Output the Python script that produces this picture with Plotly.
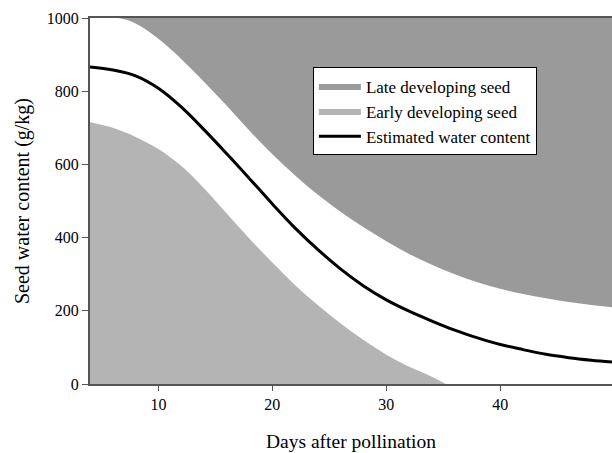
import plotly.graph_objects as go

# Estimated water content (black line)
days_line = [4, 6, 8, 10, 12, 14, 16, 18, 20, 22, 24, 26, 28, 30, 32, 34, 36, 38, 40, 42, 44, 46, 48, 49.8]
water_line = [866, 858, 842, 808, 757, 695, 629, 561, 492, 426, 367, 314, 268, 230, 199, 172, 147, 126, 108, 94, 81, 72, 65, 60]

# Late developing seed: lower boundary of the dark region (region extends up to 1000)
days_late = [4, 6.5, 8, 10, 12, 14, 16, 18, 20, 22, 24, 26, 28, 30, 32, 34, 36, 38, 40, 42, 44, 46, 48, 49.8]
water_late = [1000, 1000, 985, 943, 888, 826, 760, 692, 628, 570, 517, 470, 428, 390, 355, 326, 300, 278, 260, 246, 234, 224, 216, 210]

# Early developing seed: upper boundary of the light region (region extends down to 0)
days_early = [4, 6, 8, 10, 12, 14, 16, 18, 20, 22, 24, 26, 28, 30, 32, 34, 35.2]
water_early = [715, 700, 675, 642, 596, 535, 466, 397, 332, 270, 215, 165, 120, 80, 47, 20, 0]

y_max = 1000

x_ticks = [10, 20, 30, 40]
y_ticks = [0, 200, 400, 600, 800, 1000]

font_family = "Liberation Serif"
dark = "#9a9a9a"
light = "#b4b4b4"

fig = go.Figure()

# Ceiling for the dark region
fig.add_trace(go.Scatter(
    x=days_late, y=[y_max] * len(days_late), mode="lines",
    line=dict(width=0, color=dark), showlegend=False, hoverinfo="skip",
))
fig.add_trace(go.Scatter(
    x=days_late, y=water_late, mode="lines",
    fill="tonexty", fillcolor=dark,
    line=dict(width=0, color=dark, shape="spline"),
    name="Late developing seed", hoverinfo="skip",
))

fig.add_trace(go.Scatter(
    x=days_early, y=water_early, mode="lines",
    fill="tozeroy", fillcolor=light,
    line=dict(width=0, color=light, shape="spline"),
    name="Early developing seed", hoverinfo="skip",
))

fig.add_trace(go.Scatter(
    x=days_line, y=water_line, mode="lines",
    line=dict(color="black", width=3, shape="spline"),
    name="Estimated water content",
))

fig.update_layout(
    width=612, height=453,
    margin=dict(l=90, r=0, t=18, b=69),
    paper_bgcolor="white", plot_bgcolor="white",
    font=dict(family=font_family, size=16, color="black"),
    showlegend=True,
    legend=dict(
        x=0.427, y=0.865, xanchor="left", yanchor="top",
        bgcolor="white", bordercolor="black", borderwidth=1,
        font=dict(family=font_family, size=17, color="black"),
        traceorder="normal", itemwidth=42,
    ),
    xaxis=dict(
        range=[4, 49.8], tickvals=x_ticks, ticks="outside", ticklen=5,
        tickcolor="#555555", tickwidth=1,
        showline=True, linecolor="#555555", linewidth=2, mirror=True,
        showgrid=False, zeroline=False,
        tickfont=dict(family=font_family, size=16),
        title=dict(text="Days after pollination", font=dict(family=font_family, size=19.5), standoff=22),
    ),
    yaxis=dict(
        range=[0, 1000], tickvals=y_ticks, ticks="outside", ticklen=6,
        tickcolor="#555555", tickwidth=1,
        showline=True, linecolor="#555555", linewidth=2,
        showgrid=False, zeroline=False,
        tickfont=dict(family=font_family, size=16),
        title=dict(text="Seed water content (g/kg)", font=dict(family=font_family, size=20), standoff=12),
    ),
)

fig.write_html("out.html")
